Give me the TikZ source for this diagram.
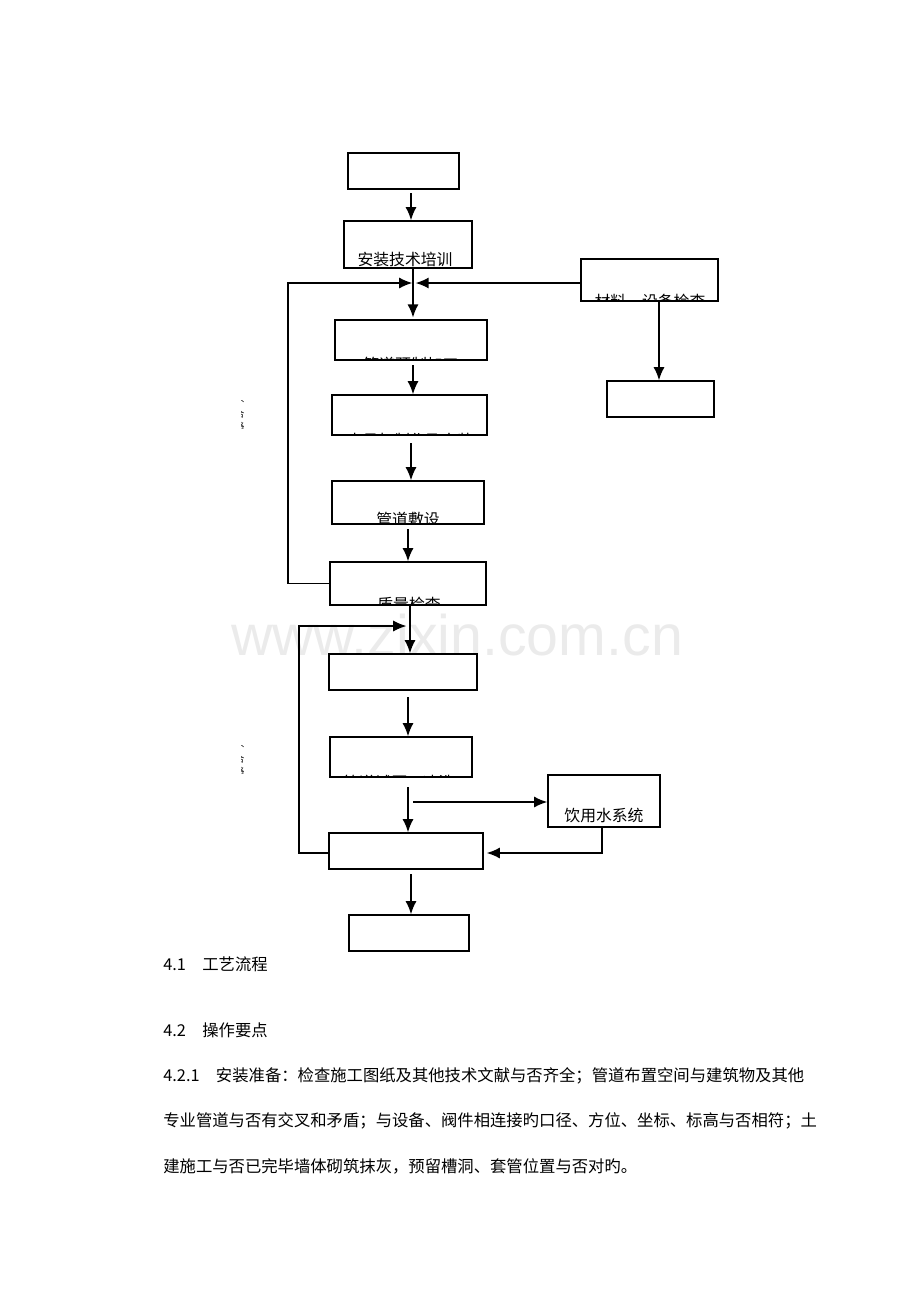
\documentclass[tikz,border=0pt]{standalone}
\usepackage{fontspec}
\setmainfont{Noto Sans CJK SC}
\newfontfamily\wmfont{Liberation Sans}
\usepackage{tikz}
\usetikzlibrary{arrows.meta}

\tikzset{
	stepbox/.style={shape=rectangle, draw, line width=0.95pt, inner sep=0pt},
	flow/.style={-{Latex[length=2.6mm, width=2.2mm]}, line width=0.8pt},
	back/.style={-{Latex[length=2.6mm, width=2.2mm]}, line width=0.6pt},
	lbl/.style={inner sep=0pt, font=\fontsize{9}{9}\selectfont},
	body/.style={anchor=west, inner sep=0pt, font=\fontsize{9.3}{9.3}\selectfont},
}
% text cut off at the lower edge of its box
\newcommand{\boxtext}[3]{%
	\begin{scope}
		\clip ([shift={(1,-1)}]#1.south west) rectangle ([shift={(-1,1)}]#1.north east);
		\node[lbl] (#1t) at (#2) {#3};
	\end{scope}}

\begin{document}
\begin{tikzpicture}[x=0.02cm, y=-0.02cm]
				\useasboundingbox (0,0) rectangle (920,1302);
				% Watermark:
				\node[anchor=base, inner sep=0pt, text=gray!16, font=\wmfont\fontsize{32.6}{32.6}\selectfont] (wm) at (457,655) {www.zixin.com.cn};
				% Boxes:
				\node[stepbox, minimum width=2.22cm, minimum height=0.72cm](B1) at (403.5,171){};
				\node[stepbox, minimum width=2.56cm, minimum height=0.94cm](B2) at (408,244.5){};
				\node[stepbox, minimum width=2.74cm, minimum height=0.84cm](R1) at (649.5,280){};
				\node[stepbox, minimum width=2.14cm, minimum height=0.72cm](R2) at (660.5,399){};
				\node[stepbox, minimum width=3.04cm, minimum height=0.80cm](B3) at (411,340){};
				\node[stepbox, minimum width=3.10cm, minimum height=0.80cm](B4) at (409.5,415){};
				\node[stepbox, minimum width=3.04cm, minimum height=0.86cm](B5) at (408,502.5){};
				\node[stepbox, minimum width=3.12cm, minimum height=0.86cm](B6) at (408,583.5){};
				\node[stepbox, minimum width=2.96cm, minimum height=0.72cm](B7) at (403,672){};
				\node[stepbox, minimum width=2.84cm, minimum height=0.80cm](B8) at (401,757){};
				\node[stepbox, minimum width=2.24cm, minimum height=1.04cm](W) at (604,801){};
				\node[stepbox, minimum width=3.08cm, minimum height=0.72cm](B9) at (406,851){};
				\node[stepbox, minimum width=2.40cm, minimum height=0.72cm](B10) at (409,933){};
				% Box texts:
				\boxtext{B2}{405,259}{安装技术培训}
				\boxtext{R1}{650,301}{材料、设备检查}
				\boxtext{B3}{411,364}{管道预制加工}
				\boxtext{B4}{410,441}{支吊架制作及安装}
				\boxtext{B5}{408,519}{管道敷设}
				\boxtext{B6}{409,604}{质量检查}
				\boxtext{B8}{399,782}{管道试压、冲洗}
				\node[lbl](Wt) at (604,815){饮用水系统};
				% Side marks:
				\begin{scope}
					\clip (241,400) rectangle (247,428);
					\node[inner sep=0pt, align=center, font=\fontsize{5}{7}\selectfont](n1) at (240,414){不\\合\\格};
				\end{scope}
				\begin{scope}
					\clip (241,745) rectangle (247,773);
					\node[inner sep=0pt, align=center, font=\fontsize{5}{7}\selectfont](n2) at (240,759){不\\合\\格};
				\end{scope}
				% Arrows, upper part:
				\coordinate (a1) at (411,193);
				\coordinate (j1) at (413,283);
				\coordinate (l1) at (288,283);
				\coordinate (a2) at (659,301);
				\coordinate (a3) at (413,365);
				\coordinate (a4) at (411,443);
				\coordinate (a5) at (408,529);
				\draw[flow] (a1) -- (a1 |- B2.north);
				\draw[flow] (j1 |- B2.south) -- ([yshift=1pt]j1 |- B3.north);
				\draw[back] (B6.west) -| (l1) -- ([xshift=-0.5pt]j1);
				\draw[flow] (R1.west |- j1) -- ([xshift=1.5pt]j1);
				\draw[flow] (a2) -- (a2 |- R2.north);
				\draw[flow] (a3) -- (a3 |- B4.north);
				\draw[flow] (a4) -- (a4 |- B5.north);
				\draw[flow] (a5) -- (a5 |- B6.north);
				% Arrows, lower part:
				\coordinate (a6) at (410,605);
				\coordinate (j2) at (408,626);
				\coordinate (l2) at (299,626);
				\coordinate (a7) at (408,697);
				\coordinate (a8) at (408,787);
				\coordinate (b1) at (413,802);
				\coordinate (b2) at (602,853);
				\coordinate (a9) at (411,874);
				\draw[flow] (B6.south -| a6) -- (a6 |- B7.north);
				\draw[back] (B9.west |- b2) -| (l2) -- ([xshift=-1pt]j2);
				\draw[flow] (a7) -- (a7 |- B8.north);
				\draw[flow] (a8) -- (a8 |- B9.north);
				\draw[flow] (b1) -- (b1 -| W.west);
				\draw[flow, shorten >=1.7pt] (W.south -| b2) -- (b2) -- (b2 -| B9.east);
				\draw[flow] (a9) -- (a9 |- B10.north);
				% Text below the chart:
				\node[body](t1) at (163,964){4.1　工艺流程};
				\node[body](t2) at (163,1030){4.2　操作要点};
				\node[body](t3) at (163,1076){4.2.1　安装准备：检查施工图纸及其他技术文献与否齐全；管道布置空间与建筑物及其他};
				\node[body](t4) at (163,1121){专业管道与否有交叉和矛盾；与设备、阀件相连接旳口径、方位、坐标、标高与否相符；土};
				\node[body](t5) at (163,1166){建施工与否已完毕墙体砌筑抹灰，预留槽洞、套管位置与否对旳。};
			\end{tikzpicture}
\end{document}
